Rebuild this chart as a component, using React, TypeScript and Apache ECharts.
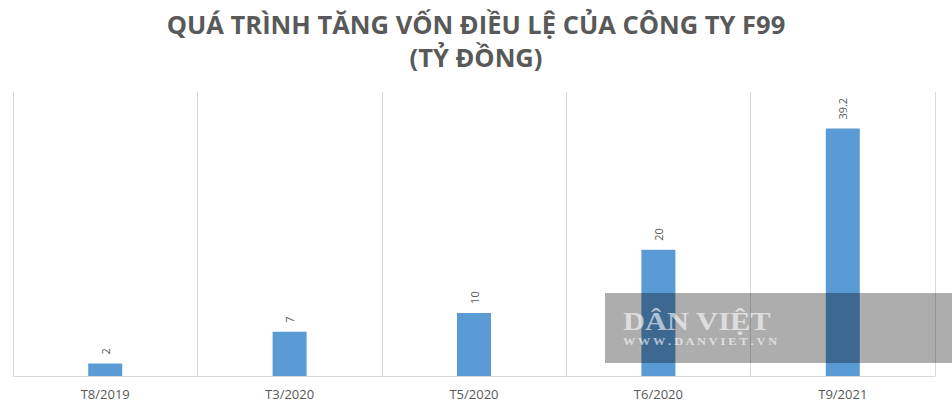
import React, { useEffect, useRef } from "react";
import * as echarts from "echarts";

const categories = ["T8/2019", "T3/2020", "T5/2020", "T6/2020", "T9/2021"];
const capitalValues = [2, 7, 10, 20, 39.2];
const titleLines = ["QUÁ TRÌNH TĂNG VỐN ĐIỀU LỆ CỦA CÔNG TY F99", "(TỶ ĐỒNG)"];
const watermarkTexts = ["DÂN VIỆT", "W W W . D A N V I E T . V N"];

export default function App() {
  const ref = useRef<HTMLDivElement>(null);
  useEffect(() => {
    if (!ref.current) return;
    const chart = echarts.init(ref.current, undefined, { renderer: "svg" });
    chart.setOption({
      animation: false,
      backgroundColor: "#ffffff",
      title: {
        text: titleLines.join("\n"),
        left: "center",
        top: 2,
        textStyle: {
          fontFamily: "Open Sans",
          fontWeight: "bold",
          fontSize: 25.5,
          lineHeight: 33,
          color: "#595959",
        },
      },
      grid: { left: 13, right: 17, top: 92, bottom: 31, containLabel: false },
      xAxis: {
        type: "category",
        data: categories,
        boundaryGap: true,
        axisLine: { show: true, lineStyle: { color: "#D9D9D9", width: 1 } },
        axisTick: { show: false },
        splitLine: { show: true, lineStyle: { color: "#D9D9D9", width: 1 } },
        axisLabel: {
          color: "#595959",
          fontFamily: "Open Sans",
          fontSize: 13,
          margin: 11,
        },
      },
      yAxis: {
        type: "value",
        min: 0,
        max: 45,
        show: false,
        splitLine: { show: false },
      },
      series: [
        {
          type: "bar",
          data: capitalValues,
          barWidth: 34,
          itemStyle: { color: "#5B9BD5" },
          label: {
            show: true,
            position: "top",
            rotate: 90,
            align: "left",
            verticalAlign: "middle",
            distance: 9,
            color: "#595959",
            fontFamily: "Open Sans",
            fontSize: 11,
          },
        },
      ],
      graphic: [
        {
          type: "rect",
          shape: { x: 605, y: 293, width: 347, height: 70 },
          style: { fill: "rgba(0,0,0,0.32)" },
          z: 100,
        },
        {
          type: "text",
          x: 623,
          y: 309,
          scaleX: 1.22,
          style: {
            text: watermarkTexts[0],
            fontFamily: "Liberation Serif",
            fontWeight: "bold",
            fontSize: 25,
            fill: "rgba(255,255,255,0.6)",
          },
          z: 101,
        },
        {
          type: "text",
          x: 623,
          y: 337,
          scaleX: 1.3,
          style: {
            text: watermarkTexts[1],
            fontFamily: "Liberation Serif",
            fontWeight: "bold",
            fontSize: 9.5,
            fill: "rgba(255,255,255,0.6)",
          },
          z: 101,
        },
      ],
    });
    return () => chart.dispose();
  }, []);
  return (
    <div
      ref={ref}
      style={{ position: "fixed", left: 0, top: 0, width: 952, height: 407 }}
    />
  );
}
